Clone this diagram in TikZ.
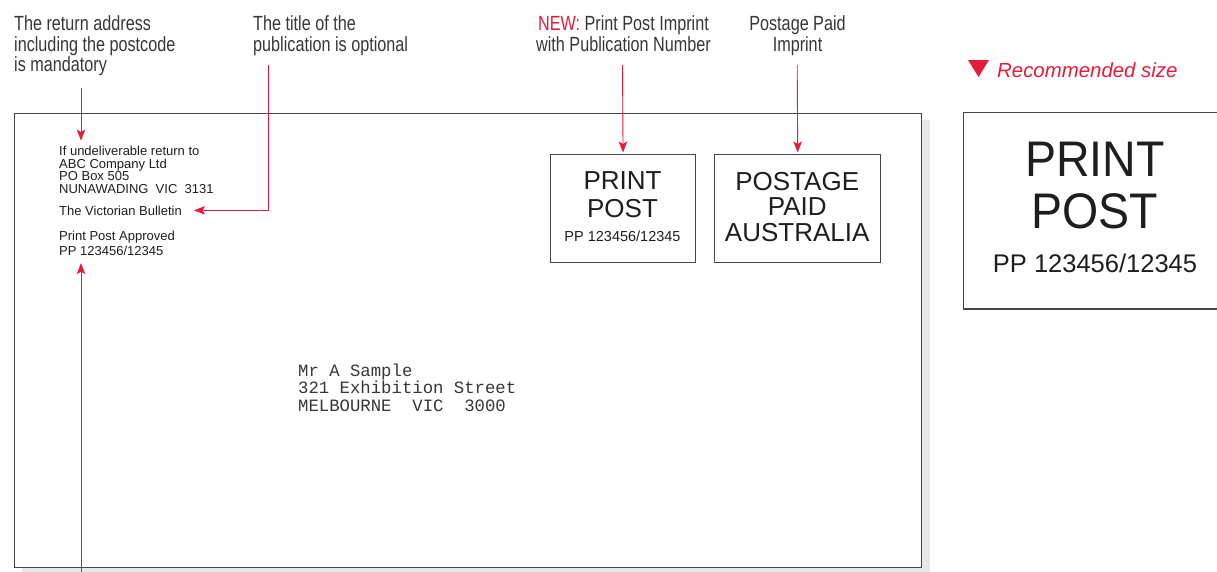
\documentclass[tikz,border=0pt]{standalone}
\usepackage{fontspec}
\setmainfont{Liberation Sans}
\newfontfamily\condfont[FakeStretch=0.79]{Liberation Sans}
\newfontfamily\bigfont[FakeStretch=0.93]{Liberation Sans}
\newfontfamily\addrfont{Liberation Mono}
\usetikzlibrary{arrows.meta}
\definecolor{ppred}{RGB}{228,27,58}
\definecolor{lblgray}{RGB}{55,55,55}
\definecolor{shadowgray}{RGB}{230,231,232}
\definecolor{edgegray}{RGB}{70,70,70}
\definecolor{inkblack}{RGB}{30,30,30}
\tikzset{
  redarrow/.style={draw=ppred, line width=0.9pt, -{Stealth[length=11pt,width=8.5pt,inset=2.5pt]}},
  lbl/.style={font={\condfont\fontsize{20.5}{20.5}\selectfont}, text=lblgray, inner sep=0pt},
  envtext/.style={font={\fontsize{13}{12.5}\selectfont}, text=inkblack, inner sep=0pt, anchor=base west, align=left},
  stampbox/.style={draw=edgegray, line width=1.1pt, fill=white, inner sep=0pt, anchor=north west},
  stamptext/.style={text=inkblack, inner sep=0pt, anchor=base, align=center},
}
\begin{document}
\begin{tikzpicture}[x=1pt,y=-1pt]
\useasboundingbox (0,0) rectangle (1217,571);
\clip (0,0) rectangle (1217,571);
\fill[white] (0,0) rectangle (1217,571);

% envelope with shadow
\fill[shadowgray] (22,120) rectangle (930,585);
\node[draw=edgegray, line width=1.4pt, fill=white, inner sep=0pt, anchor=north west,
      minimum width=907pt, minimum height=454pt] (env) at (14,113) {};

% top labels (anchor base = baseline of last line)
\node[lbl, anchor=base west, align=left] (lab1) at (14,71.5)
  {The return address\\including the postcode\\is mandatory};
\node[lbl, anchor=base west, align=left] (lab2) at (253,51)
  {The title of the\\publication is optional};
\node[lbl, anchor=base, align=center] (lab3) at (623.5,51)
  {\textcolor{ppred}{NEW:} Print Post Imprint\\with Publication Number};
\node[lbl, anchor=base, align=center] (lab4) at (797.5,51)
  {Postage Paid\\Imprint};

% recommended size
\fill[ppred] (968,60) -- (989,60) -- (978.5,77) -- cycle;
\node[font={\itshape\fontsize{20.4}{20.4}\selectfont}, text=ppred, inner sep=0pt, anchor=base west]
  (rec) at (997,77.3) {Recommended size};

% return address block
\node[envtext] (ret) at (59,193.2)
  {If undeliverable return to\\ABC Company Ltd\\PO Box 505\\NUNAWADING\ \ VIC\ \ 3131};
\node[envtext] (vb) at (59,215) {The Victorian Bulletin};
\node[envtext, font={\fontsize{13}{15.3}\selectfont}] (appr) at (59,255.3)
  {Print Post Approved\\PP 123456/12345};

% delivery address
\node[font={\addrfont\fontsize{17.3}{17.8}\selectfont}, text=lblgray, inner sep=0pt,
      anchor=base west, align=left] (addr) at (298,411.6)
  {Mr A Sample\\321 Exhibition Street\\MELBOURNE\ \ VIC\ \ 3000};

% imprint boxes
\node[stampbox, minimum width=145pt, minimum height=107.7pt] (pp) at (550,154) {};
\node[stamptext, font={\fontsize{26}{28.7}\selectfont}] (pptxt) at (622.5,217.7) {PRINT\\POST};
\node[stamptext, font={\fontsize{14.5}{14.5}\selectfont}] (ppnum) at (622.5,241.7) {PP 123456/12345};

\node[stampbox, minimum width=165.7pt, minimum height=107.7pt] (paid) at (714.3,154) {};
\node[stamptext, font={\fontsize{26}{25.9}\selectfont}] (paidtxt) at (797.2,241.8)
  {POSTAGE\\PAID\\AUSTRALIA};

\node[stampbox, line width=1.3pt, minimum width=280pt, minimum height=196.6pt] (big) at (962.7,111.7) {};
\node[stamptext, font={\bigfont\fontsize{50}{51.6}\selectfont}] (bigtxt) at (1095,228.3) {PRINT\\POST};
\node[stamptext, font={\fontsize{25.5}{25.5}\selectfont}] (bignum) at (1095,272.3) {PP 123456/12345};

% connectors
\coordinate (a1s) at (81,88);
\coordinate (a2s) at (268,65);
\coordinate (a3s) at (622.5,65);
\coordinate (a4s) at (797.2,65);
\coordinate (a5s) at (81,580);
\draw[redarrow, shorten >=5.5pt] (a1s) -- (a1s |- ret.north);
\draw[redarrow, shorten >=12pt] (a2s) |- (vb.east);
\draw[redarrow, shorten >=1.5pt] (a3s) -- (pp.north);
\draw[redarrow, shorten >=1.5pt] (a4s) -- (paid.north);
\draw[redarrow, shorten >=7.5pt] (a5s) -- (a5s |- appr.south);
\end{tikzpicture}
\end{document}
